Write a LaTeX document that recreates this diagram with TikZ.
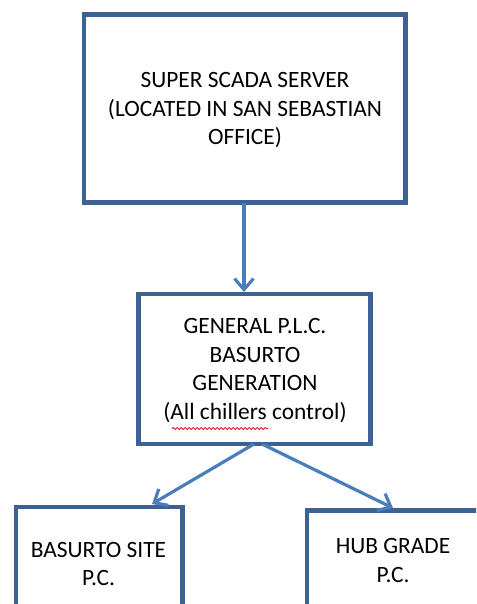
\documentclass[tikz,border=0pt]{standalone}
\usepackage{fontspec}
\setmainfont{Carlito}
\usetikzlibrary{arrows.meta,calc,decorations.pathmorphing}
\definecolor{boxline}{HTML}{3C6293}
\definecolor{arrowline}{HTML}{4A7EBB}
\definecolor{spellred}{HTML}{E02020}
\tikzset{
  box/.style={draw=boxline, line width=4.5pt, fill=white, inner sep=0pt},
  label txt/.style={font=\fontsize{23.4}{28.5}\selectfont, align=center, text=black, inner sep=0pt},
  arr/.style={draw=arrowline, line width=3.2pt,
    -{Straight Barb[length=11pt, width=19pt, line width=3.2pt]}},
}
\begin{document}
\begin{tikzpicture}[x=1pt, y=-1pt]
  \useasboundingbox (0,0) rectangle (476,604);
  \clip (0,0) rectangle (476,604);
  % server box
  \node[box, minimum width=321.5pt, minimum height=187.8pt] (srv) at (244.75,108.6) {};
  \node[label txt] (srvtxt) at (245,110.5)
    {SUPER SCADA SERVER\\(LOCATED IN SAN SEBASTIAN\\OFFICE)};
  % general PLC box
  \node[box, minimum width=231.8pt, minimum height=150pt] (plc) at (254.6,369) {};
  \node[label txt] (plctxt) at (255,370.5)
    {GENERAL P.L.C.\\BASURTO\\GENERATION\\(All chillers control)};
  % lower boxes, running past the lower edge
  \node[box, minimum width=166.5pt, minimum height=160pt] (site) at (99.25,587) {};
  \node[label txt] (sitetxt) at (98.5,564) {BASURTO SITE\\P.C.};
  \node[box, minimum width=200pt, minimum height=160pt] (hub) at (407,590.5) {};
  \node[label txt] (hubtxt) at (393,560.5) {HUB GRADE\\P.C.};
  % spell-check underline
  \coordinate (sq1) at (172,428.5);
  \coordinate (sq2) at (268,428.5);
  \draw[spellred, line width=0.9pt, decorate,
        decoration={snake, amplitude=1pt, segment length=4pt}] (sq1) -- (sq2);
  % connectors
  \coordinate (srvout) at (244,202.5);
  \coordinate (plcin) at (244,292);
  \draw[arr] (srvout) -- (plcin);
  \coordinate (plcoutl) at (254,444);
  \coordinate (plcoutr) at (262,444);
  \coordinate (sitein) at (152,504);
  \coordinate (hubin) at (393,508);
  \draw[arr] (plcoutl) -- (sitein);
  \draw[arr] (plcoutr) -- (hubin);
\end{tikzpicture}
\end{document}
